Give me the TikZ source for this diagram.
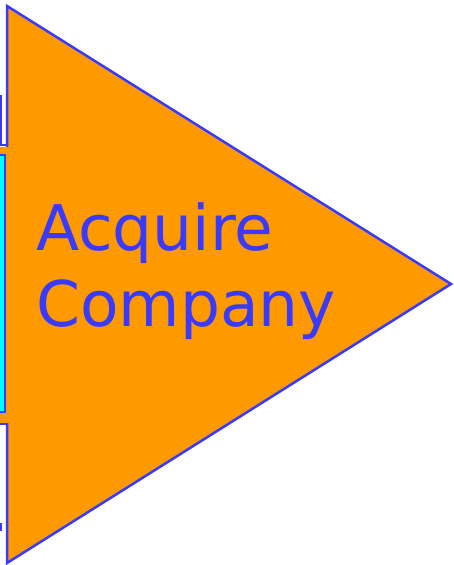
\documentclass[tikz,border=0pt]{standalone}
\usepackage{fontspec}
\setmainfont{DejaVu Sans}
\usepackage{xcolor}
\definecolor{stepblue}{RGB}{58,58,255}
\definecolor{steporange}{RGB}{255,153,0}
\definecolor{stepcyan}{RGB}{0,255,255}
\tikzset{
  edge/.style={draw=stepblue,line width=2.5pt,line join=miter},
  steplabel/.style={text=stepblue,font=\fontsize{63}{76}\selectfont,inner sep=0pt,anchor=base west}
}
\begin{document}
\begin{tikzpicture}[x=1pt,y=-1pt]
\useasboundingbox (0,0) rectangle (454,565);
% big arrow head
\fill[steporange,edge] (7,6) -- (451,284) -- (7,563) -- cycle;
\fill[steporange] (0,147) rectangle (8.5,423);
% neighbouring boxes, cut at the left border
\fill[stepcyan,edge] (-10,155) rectangle (5,412);
\draw[edge] (1,95) -- (1,145) -- (8,145);
\draw[edge] (0,424) -- (8,424);
\draw[edge] (1,523) -- (1,531);
\node[steplabel] (acq) at (36,250.5) {Acquire};
\node[steplabel] (comp) at (36,326.5) {Company};
\end{tikzpicture}
\end{document}
